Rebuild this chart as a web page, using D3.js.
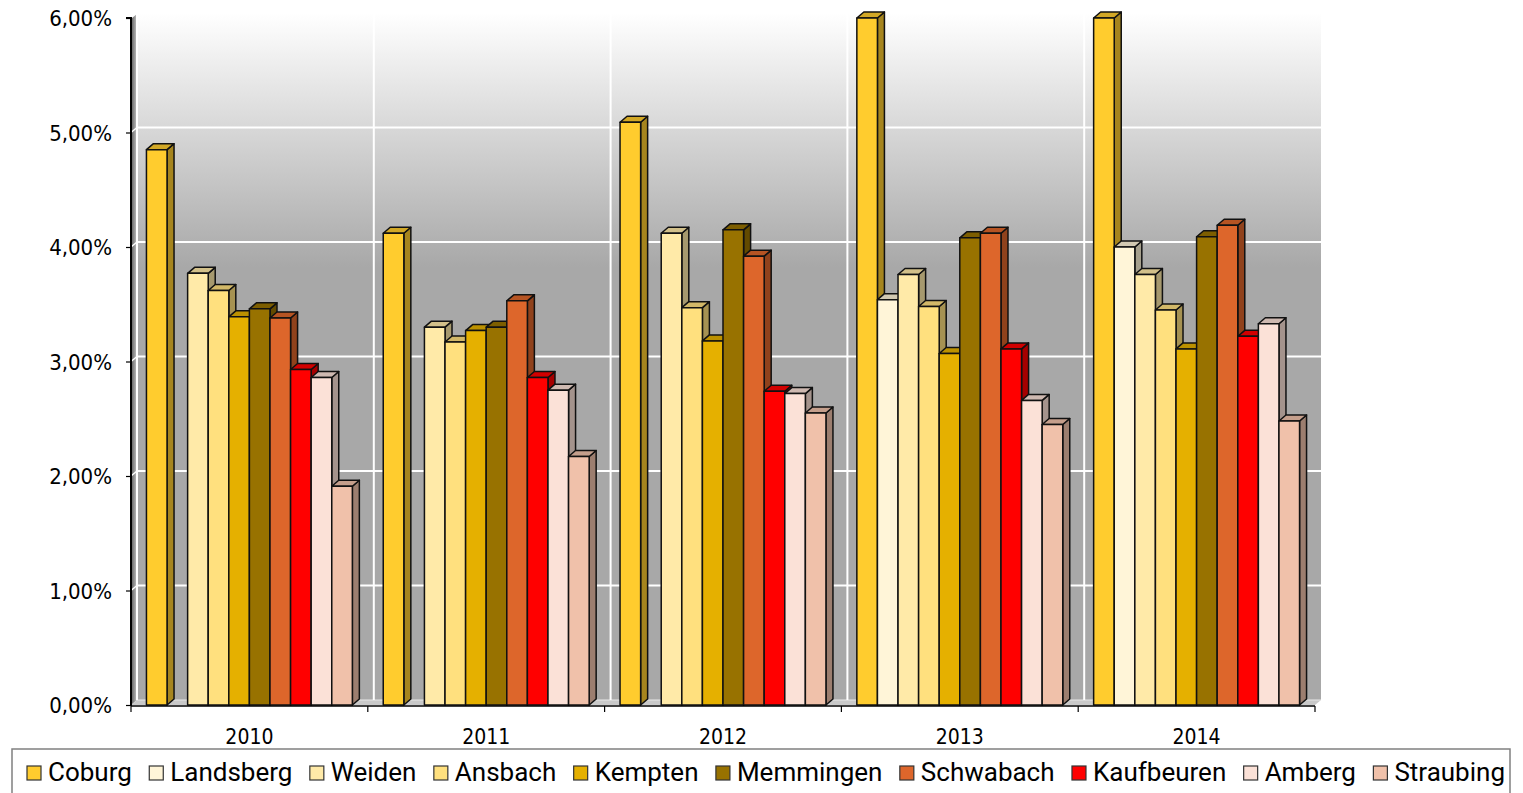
<!DOCTYPE html>
<html>
<head>
<meta charset="utf-8">
<script src="https://cdn.jsdelivr.net/npm/d3@7"></script>
<style>
  html, body { margin: 0; padding: 0; background: #fff; }
  svg { display: block; }
</style>
</head>
<body>
<svg id="chart" width="1523" height="793"></svg>
<script>
// ---- data ----
const years = ["2010", "2011", "2012", "2013", "2014"];
const series = ["Coburg", "Landsberg", "Weiden", "Ansbach", "Kempten", "Memmingen", "Schwabach", "Kaufbeuren", "Amberg", "Straubing"];
const colors = ["#FFCC2E", "#FFF5D8", "#FFEAA8", "#FFE07E", "#E5B000", "#987200", "#DD662B", "#FF0000", "#FBE1D7", "#F0C1AA"];
const coburg     = [4.85, 4.12, 5.09, 6.00, 6.00];
const landsberg  = [null, null, null, 3.54, 4.00];
const weiden     = [3.77, 3.30, 4.12, 3.76, 3.76];
const ansbach    = [3.62, 3.17, 3.47, 3.48, 3.45];
const kempten    = [3.39, 3.27, 3.18, 3.07, 3.11];
const memmingen  = [3.46, 3.30, 4.15, 4.08, 4.09];
const schwabach  = [3.38, 3.53, 3.92, 4.12, 4.19];
const kaufbeuren = [2.93, 2.86, 2.74, 3.11, 3.22];
const amberg     = [2.86, 2.75, 2.72, 2.66, 3.33];
const straubing  = [1.91, 2.17, 2.55, 2.45, 2.48];
const yTicks = [0, 1, 2, 3, 4, 5, 6];
const values = [coburg, landsberg, weiden, ansbach, kempten, memmingen, schwabach, kaufbeuren, amberg, straubing];

(function () {
// ---- layout ----
const svg = d3.select("#chart");
const pL = 131, pR = 1315, pT = 18, pB = 705;
const wdx = 6, wdy = -5;   // wall depth
const bdx = 7, bdy = -6;   // bar depth
const tickFont = "'DejaVu Sans Condensed', 'DejaVu Sans', sans-serif";

const y = d3.scaleLinear().domain([0, 6]).range([pB, pT]);
const x0 = d3.scaleBand().domain(years).range([pL, pR]).padding(0);
const x1 = d3.scaleBand().domain(series).range([0, x0.bandwidth()]).paddingInner(0).paddingOuter(0.75);

const defs = svg.append("defs");
const wallGrad = defs.append("linearGradient").attr("id", "wallGrad")
  .attr("gradientUnits", "userSpaceOnUse").attr("x1", 0).attr("x2", 0).attr("y1", pT + wdy).attr("y2", pB + wdy);
wallGrad.append("stop").attr("offset", 0).attr("stop-color", "#ffffff");
wallGrad.append("stop").attr("offset", 0.37).attr("stop-color", "#a8a8a8");
wallGrad.append("stop").attr("offset", 1).attr("stop-color", "#a8a8a8");
const sideGrad = defs.append("linearGradient").attr("id", "sideGrad")
  .attr("x1", 0).attr("x2", 1).attr("y1", 0).attr("y2", 0);
sideGrad.append("stop").attr("offset", 0).attr("stop-color", "#5a5a5a");
sideGrad.append("stop").attr("offset", 1).attr("stop-color", "#c4c4c4");

// back wall
svg.append("rect")
  .attr("x", pL + wdx).attr("y", pT + wdy)
  .attr("width", pR - pL).attr("height", pB - pT)
  .attr("fill", "url(#wallGrad)");
// left side wall
svg.append("polygon")
  .attr("points", [[pL, pT], [pL + wdx, pT + wdy], [pL + wdx, pB + wdy], [pL, pB]].join(" "))
  .attr("fill", "url(#sideGrad)");
// floor
svg.append("polygon")
  .attr("points", [[pL, pB], [pL + wdx, pB + wdy], [pR + wdx, pB + wdy], [pR, pB]].join(" "))
  .attr("fill", "#c9c9c9");
svg.append("line")
  .attr("x1", pL + wdx).attr("x2", pR + wdx).attr("y1", pB + wdy).attr("y2", pB + wdy)
  .attr("stroke", "#e8e8e8").attr("stroke-width", 1);

// grid lines
const grid = svg.append("g").attr("stroke", "#ffffff").attr("stroke-width", 2);
yTicks.filter(t => t > 0).forEach(t => {
  grid.append("line").attr("x1", pL + wdx).attr("x2", pR + wdx)
    .attr("y1", y(t) + wdy).attr("y2", y(t) + wdy);
  grid.append("line").attr("x1", pL).attr("x2", pL + wdx)
    .attr("y1", y(t)).attr("y2", y(t) + wdy).attr("stroke-width", 1.5);
});
years.forEach(yr => {
  const xx = x0(yr) + wdx;
  grid.append("line").attr("x1", xx).attr("x2", xx)
    .attr("y1", pT + wdy).attr("y2", pB + wdy);
});

// bars
const barsG = svg.append("g").attr("stroke", "#111").attr("stroke-width", 1.5).attr("stroke-linejoin", "round");
years.forEach((yr, yi) => {
  series.forEach((s, si) => {
    const v = values[si][yi];
    if (v == null) return;
    const c = d3.color(colors[si]);
    const xb = x0(yr) + x1(s), w = x1.bandwidth();
    const yv = y(v), y0 = y(0);
    const g = barsG.append("g");
    g.append("polygon")
      .attr("points", [[xb + w, yv], [xb + w + bdx, yv + bdy], [xb + w + bdx, y0 + bdy], [xb + w, y0]].join(" "))
      .attr("fill", c.darker(1.2).formatHex());
    g.append("polygon")
      .attr("points", [[xb, yv], [xb + bdx, yv + bdy], [xb + w + bdx, yv + bdy], [xb + w, yv]].join(" "))
      .attr("fill", c.darker(0.55).formatHex());
    g.append("rect")
      .attr("x", xb).attr("y", yv).attr("width", w).attr("height", y0 - yv)
      .attr("fill", colors[si]);
  });
});

// axes
const yAxis = d3.axisLeft(y).tickValues(yTicks).tickSize(5).tickPadding(14)
  .tickFormat(d => d3.format(".2f")(d).replace(".", ",") + "%");
const yg = svg.append("g").attr("transform", `translate(${pL},0)`).call(yAxis);
yg.select(".domain").attr("stroke", "#000").attr("stroke-width", 2).attr("d", `M-5,${pT}H0V${pB + 1}`);
yg.selectAll(".tick line").attr("stroke", "#000").attr("stroke-width", 1.2);
yg.selectAll(".tick text").attr("font-family", tickFont).attr("font-size", 22).attr("fill", "#000").attr("dy", "0.36em");

const xAxis = d3.axisBottom(x0).tickSize(0).tickPadding(23);
const xg = svg.append("g").attr("transform", `translate(0,${pB + 1})`).call(xAxis);
xg.select(".domain").attr("stroke", "#000").attr("stroke-width", 1.5).attr("d", `M${pL},0H${pR}`);
xg.selectAll(".tick text").attr("font-family", tickFont).attr("font-size", 21).attr("fill", "#000");
const bounds = years.map(yr => x0(yr)).concat([pR]);
xg.selectAll(".bound").data(bounds).enter().append("line")
  .attr("x1", d => d).attr("x2", d => d).attr("y1", 0).attr("y2", 6)
  .attr("stroke", "#000").attr("stroke-width", 1.2);

// legend
const legY = 749;
svg.append("rect").attr("x", 12).attr("y", legY).attr("width", 1498).attr("height", 60)
  .attr("fill", "#fff").attr("stroke", "#808080").attr("stroke-width", 1.5);
const leg = svg.append("g");
const items = series.map((s, i) => {
  const g = leg.append("g");
  g.append("rect").attr("width", 14).attr("height", 14).attr("y", 766)
    .attr("fill", colors[i]).attr("stroke", "#333").attr("stroke-width", 1.2);
  const t = g.append("text").attr("x", 21).attr("y", 781).text(s)
    .attr("font-family", "Roboto, sans-serif").attr("font-size", 26).attr("fill", "#000");
  return { g, w: 21 + t.node().getComputedTextLength() };
});
const legStart = 27, legEnd = 1505;
const totalW = d3.sum(items, d => d.w);
const gap = (legEnd - legStart - totalW) / (items.length - 1);
let cx = legStart;
items.forEach(it => { it.g.attr("transform", `translate(${cx},0)`); cx += it.w + gap; });
})();
</script>
</body>
</html>
